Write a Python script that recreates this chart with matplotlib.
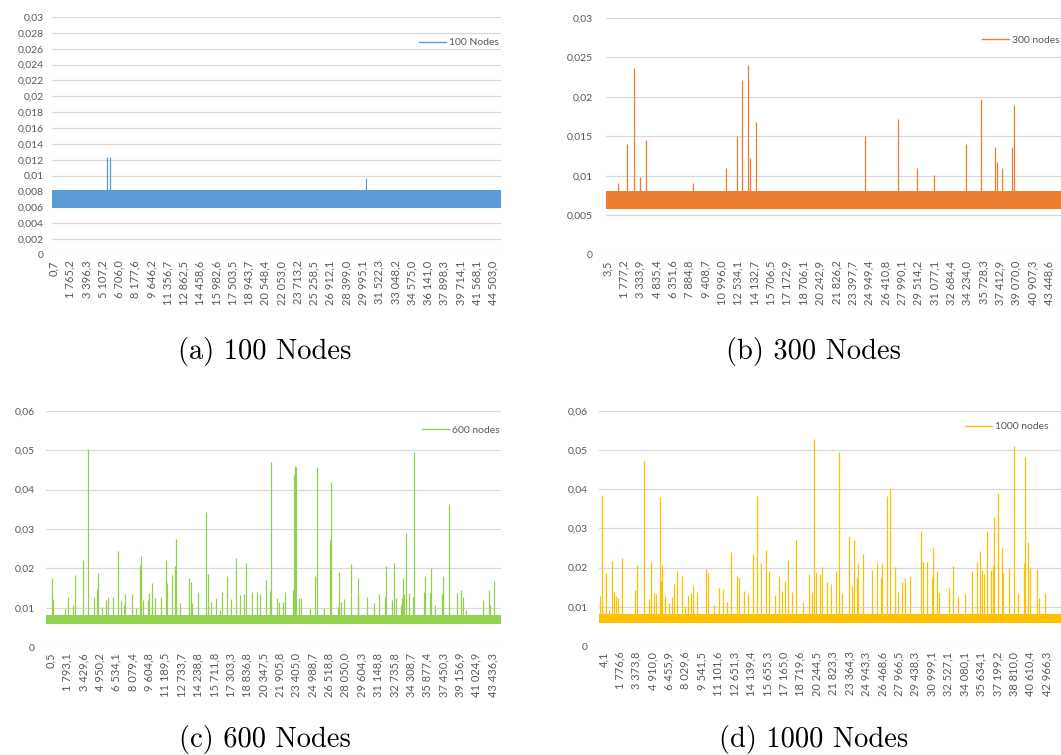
import matplotlib
matplotlib.use("Agg")
import matplotlib.pyplot as plt

W, H = 1061, 755

# category axis labels (one per label slot, slot index = x position)
xlabels_100 = ["0,7", "1 765,2", "3 396,3", "5 107,2", "6 706,0", "8 177,6", "9 646,2",
               "11 356,7", "12 862,5", "14 458,6", "15 982,6", "17 503,5", "18 943,7",
               "20 548,4", "22 053,0", "23 713,2", "25 258,5", "26 912,1", "28 399,0",
               "29 995,1", "31 522,3", "33 048,2", "34 575,0", "36 141,0", "37 898,3",
               "39 714,1", "41 568,1", "44 503,0"]
xlabels_300 = ["3,5", "1 777,2", "3 333,9", "4 835,4", "6 351,6", "7 884,8", "9 408,7",
               "10 996,0", "12 534,1", "14 132,7", "15 706,5", "17 172,9", "18 706,1",
               "20 242,9", "21 826,2", "23 397,7", "24 949,4", "26 410,8", "27 990,1",
               "29 514,2", "31 077,1", "32 684,4", "34 234,0", "35 728,3", "37 412,9",
               "39 070,0", "40 907,3", "43 448,6"]
xlabels_600 = ["0,5", "1 793,1", "3 429,6", "4 950,2", "6 534,1", "8 079,4", "9 604,8",
               "11 189,5", "12 733,7", "14 238,8", "15 711,8", "17 303,3", "18 836,8",
               "20 347,5", "21 905,8", "23 405,0", "24 988,7", "26 518,8", "28 050,0",
               "29 604,3", "31 148,8", "32 735,8", "34 308,7", "35 877,4", "37 450,3",
               "39 156,9", "41 024,9", "43 436,3"]
xlabels_1000 = ["4,1", "1 776,6", "3 373,8", "4 910,0", "6 455,9", "8 029,6", "9 541,5",
                "11 101,6", "12 651,3", "14 139,4", "15 655,3", "17 165,0", "18 719,6",
                "20 244,5", "21 823,3", "23 364,3", "24 943,3", "26 468,6", "27 966,5",
                "29 438,3", "30 999,1", "32 527,1", "34 080,1", "35 634,1", "37 199,2",
                "38 810,0", "40 610,4", "42 966,3"]

# dense base band (min, max) of each series
band_100 = (0.0059, 0.0082)
band_300 = (0.0058, 0.0081)
band_600 = (0.0058, 0.0082)
band_1000 = (0.0058, 0.0081)

# spikes above the band: (position in label slots, value)
spikes_100 = [(3.26, 0.0124), (3.44, 0.0124), (19.19, 0.0097)]

spikes_300 = [(0.63, 0.0091), (1.20, 0.0140), (1.63, 0.0236), (1.96, 0.0098), (2.34, 0.0145),
              (5.20, 0.0091), (7.26, 0.0110), (7.92, 0.0150), (8.24, 0.0221), (8.59, 0.0240),
              (8.71, 0.0123), (9.06, 0.0168), (15.75, 0.0150), (17.78, 0.0172), (18.91, 0.0110),
              (19.99, 0.0101), (21.91, 0.0140), (22.83, 0.0197), (23.70, 0.0136), (23.84, 0.0117),
              (24.15, 0.0110), (24.76, 0.0136), (24.88, 0.0190)]

spikes_600 = [(0.10, 0.0177), (0.16, 0.0123), (0.87, 0.0097), (1.08, 0.0128), (1.34, 0.0107),
              (1.48, 0.0183), (1.99, 0.0221), (2.28, 0.0503), (2.63, 0.0128), (2.81, 0.0147),
              (2.87, 0.0189), (3.15, 0.0103), (3.38, 0.0120), (3.52, 0.0128), (3.83, 0.0128),
              (4.13, 0.0243), (4.31, 0.0120), (4.48, 0.0107), (4.56, 0.0134), (4.99, 0.0134),
              (5.21, 0.0100), (5.46, 0.0209), (5.54, 0.0232), (5.66, 0.0120), (5.92, 0.0120),
              (6.03, 0.0137), (6.19, 0.0162), (6.37, 0.0126), (6.76, 0.0128), (7.04, 0.0221),
              (7.13, 0.0162), (7.43, 0.0183), (7.59, 0.0207), (7.65, 0.0275), (7.90, 0.0112),
              (8.43, 0.0177), (8.57, 0.0165), (8.65, 0.0112), (8.98, 0.0139), (9.49, 0.0344),
              (9.63, 0.0185), (9.77, 0.0116), (10.10, 0.0124), (10.34, 0.0095), (10.49, 0.0139),
              (10.75, 0.0182), (11.01, 0.0123), (11.30, 0.0226), (11.56, 0.0133), (11.83, 0.0134),
              (11.95, 0.0215), (12.28, 0.0139), (12.58, 0.0139), (12.79, 0.0134), (13.13, 0.0171),
              (13.42, 0.0144), (13.48, 0.0469), (13.80, 0.0126), (13.93, 0.0114), (14.21, 0.0116),
              (14.33, 0.0141), (14.78, 0.0145), (14.88, 0.0440), (14.92, 0.0461), (14.98, 0.0456),
              (15.17, 0.0124), (15.29, 0.0124), (15.84, 0.0100), (16.15, 0.0182), (16.25, 0.0458),
              (16.70, 0.0100), (17.04, 0.0272), (17.10, 0.0418), (17.53, 0.0103), (17.63, 0.0190),
              (17.71, 0.0114), (17.92, 0.0123), (18.37, 0.0210), (18.75, 0.0135), (18.79, 0.0177),
              (19.30, 0.0128), (19.75, 0.0112), (20.08, 0.0134), (20.42, 0.0128), (20.49, 0.0207),
              (20.83, 0.0120), (20.95, 0.0215), (21.09, 0.0124), (21.40, 0.0107), (21.48, 0.0124),
              (21.54, 0.0177), (21.60, 0.0134), (21.68, 0.0291), (21.91, 0.0137), (22.15, 0.0128),
              (22.21, 0.0496), (22.82, 0.0139), (22.86, 0.0182), (23.17, 0.0137), (23.21, 0.0200),
              (23.48, 0.0107), (23.93, 0.0134), (23.98, 0.0182), (24.31, 0.0363), (24.80, 0.0137),
              (25.06, 0.0145), (25.17, 0.0128), (25.37, 0.0095), (26.39, 0.0120), (26.75, 0.0145),
              (26.84, 0.0107), (27.10, 0.0168)]

spikes_1000 = [(-0.20, 0.0127), (-0.10, 0.0385), (-0.08, 0.0111), (0.16, 0.0185), (0.35, 0.0093),
               (0.53, 0.0217), (0.65, 0.0137), (0.77, 0.0128), (0.92, 0.0123), (1.14, 0.0225),
               (1.93, 0.0143), (2.07, 0.0207), (2.48, 0.0472), (2.80, 0.0120), (2.88, 0.0213),
               (3.09, 0.0134), (3.21, 0.0132), (3.45, 0.0379), (3.51, 0.0166), (3.59, 0.0207),
               (3.74, 0.0128), (4.02, 0.0109), (4.16, 0.0126), (4.30, 0.0157), (4.49, 0.0190),
               (4.77, 0.0179), (4.96, 0.0103), (5.18, 0.0130), (5.32, 0.0134), (5.48, 0.0154),
               (5.69, 0.0137), (6.25, 0.0196), (6.40, 0.0188), (6.76, 0.0105), (7.07, 0.0149),
               (7.27, 0.0145), (7.51, 0.0111), (7.77, 0.0239), (8.12, 0.0179), (8.28, 0.0173),
               (8.59, 0.0139), (8.83, 0.0132), (9.10, 0.0234), (9.36, 0.0382), (9.60, 0.0211),
               (9.91, 0.0245), (10.11, 0.0191), (10.46, 0.0130), (10.72, 0.0179), (10.90, 0.0140),
               (11.07, 0.0166), (11.27, 0.0219), (11.47, 0.0137), (11.74, 0.0270), (12.14, 0.0111),
               (12.55, 0.0183), (12.69, 0.0137), (12.83, 0.0528), (12.93, 0.0188), (13.20, 0.0183),
               (13.30, 0.0202), (13.60, 0.0164), (13.87, 0.0157), (14.17, 0.0191), (14.37, 0.0494),
               (14.56, 0.0132), (14.98, 0.0280), (15.13, 0.0154), (15.29, 0.0270), (15.43, 0.0173),
               (15.53, 0.0211), (15.84, 0.0234), (16.34, 0.0194), (16.65, 0.0211), (16.89, 0.0173),
               (16.95, 0.0211), (17.28, 0.0382), (17.48, 0.0404), (17.76, 0.0202), (17.97, 0.0137),
               (18.17, 0.0164), (18.37, 0.0174), (18.68, 0.0179), (19.33, 0.0292), (19.49, 0.0215),
               (19.73, 0.0213), (19.99, 0.0173), (20.06, 0.0249), (20.30, 0.0190), (20.46, 0.0134),
               (21.07, 0.0149), (21.32, 0.0205), (21.62, 0.0126), (22.03, 0.0132), (22.43, 0.0191),
               (22.74, 0.0213), (22.94, 0.0241), (23.04, 0.0194), (23.18, 0.0183), (23.35, 0.0292),
               (23.61, 0.0194), (23.71, 0.0207), (23.79, 0.0329), (24.02, 0.0390), (24.26, 0.0249),
               (24.36, 0.0185), (24.73, 0.0200), (24.99, 0.0511), (25.28, 0.0132), (25.62, 0.0211),
               (25.70, 0.0483), (25.84, 0.0266), (25.98, 0.0200), (26.39, 0.0196), (26.55, 0.0123),
               (26.90, 0.0134)]

yticks_100 = [0, 0.002, 0.004, 0.006, 0.008, 0.01, 0.012, 0.014, 0.016, 0.018, 0.02,
              0.022, 0.024, 0.026, 0.028, 0.03]
ylabels_100 = ["0", "0,002", "0,004", "0,006", "0,008", "0,01", "0,012", "0,014", "0,016",
               "0,018", "0,02", "0,022", "0,024", "0,026", "0,028", "0,03"]
yticks_300 = [0, 0.005, 0.01, 0.015, 0.02, 0.025, 0.03]
ylabels_300 = ["0", "0,005", "0,01", "0,015", "0,02", "0,025", "0,03"]
yticks_big = [0, 0.01, 0.02, 0.03, 0.04, 0.05, 0.06]
ylabels_big = ["0", "0,01", "0,02", "0,03", "0,04", "0,05", "0,06"]

TXT = "#595959"
GRID = "#D9D9D9"
FONT = "Lato"


def rect(l, t, r, b):
    return [l / W, 1 - b / H, (r - l) / W, (b - t) / H]


def panel(fig, box, xlim, band, spikes, xlabels, yticks, ylabels, color, name,
          leg_x, leg_y, ypad):
    ax = fig.add_axes(rect(*box))
    ax.fill_between(list(xlim), band[0], band[1], color=color, lw=0, zorder=3)
    pos = [s[0] for s in spikes]
    val = [s[1] for s in spikes]
    ax.vlines(pos, band[1] - 0.0003, val, color=color, lw=0.9, zorder=3)
    ax.plot([], [], color=color, lw=1.0, label=name)
    ax.set_xlim(*xlim)
    ax.set_ylim(0, yticks[-1])
    ax.set_yticks(yticks)
    ax.set_yticklabels(ylabels, fontsize=7.5, color=TXT, family=FONT)
    ax.set_xticks(range(len(xlabels)))
    ax.set_xticklabels(xlabels, rotation=90, fontsize=8, color=TXT, family=FONT)
    ax.tick_params(axis="both", length=0)
    ax.tick_params(axis="x", pad=4)
    ax.tick_params(axis="y", pad=ypad)
    for s in ax.spines.values():
        s.set_visible(False)
    ax.yaxis.grid(True, color=GRID, lw=0.9, zorder=0)
    ax.set_axisbelow(True)
    ax.patch.set_alpha(0)
    ax.legend(loc="center right", bbox_to_anchor=(leg_x, leg_y), frameon=False,
              prop={"family": FONT, "size": 7.5}, labelcolor=TXT,
              handlelength=2.6, handletextpad=0.3, borderaxespad=0, borderpad=0)
    return ax


fig = plt.figure(figsize=(W / 100, H / 100), dpi=100)

panel(fig, (52, 17, 501, 255), (-0.12, 27.49), band_100, spikes_100, xlabels_100,
      yticks_100, ylabels_100, "#5B9BD5", "100 Nodes", 0.996, 0.892, 6)
panel(fig, (606, 17.7, 1061, 255), (-0.10, 27.74), band_300, spikes_300, xlabels_300,
      yticks_300, ylabels_300, "#ED7D31", "300 nodes", 0.998, 0.906, 9.5)
panel(fig, (45.7, 410.7, 501, 647.3), (-0.31, 27.51), band_600, spikes_600, xlabels_600,
      yticks_big, ylabels_big, "#92D050", "600 nodes", 0.998, 0.918, 8)
panel(fig, (599.3, 410.7, 1061, 646), (-0.24, 27.87), band_1000, spikes_1000, xlabels_1000,
      yticks_big, ylabels_big, "#FFC000", "1000 nodes", 0.974, 0.932, 8.5)

captions = ["(a) 100 Nodes", "(b) 300 Nodes", "(c) 600 Nodes", "(d) 1000 Nodes"]
cap_xy = [(265, 352), (814, 352), (265, 740), (814, 740)]
for c, (cx, cy) in zip(captions, cap_xy):
    fig.text(cx / W, 1 - cy / H, c, ha="center", va="center", fontsize=20.5,
             family="cmr10", color="black")

fig.savefig("out.png", dpi=100)
